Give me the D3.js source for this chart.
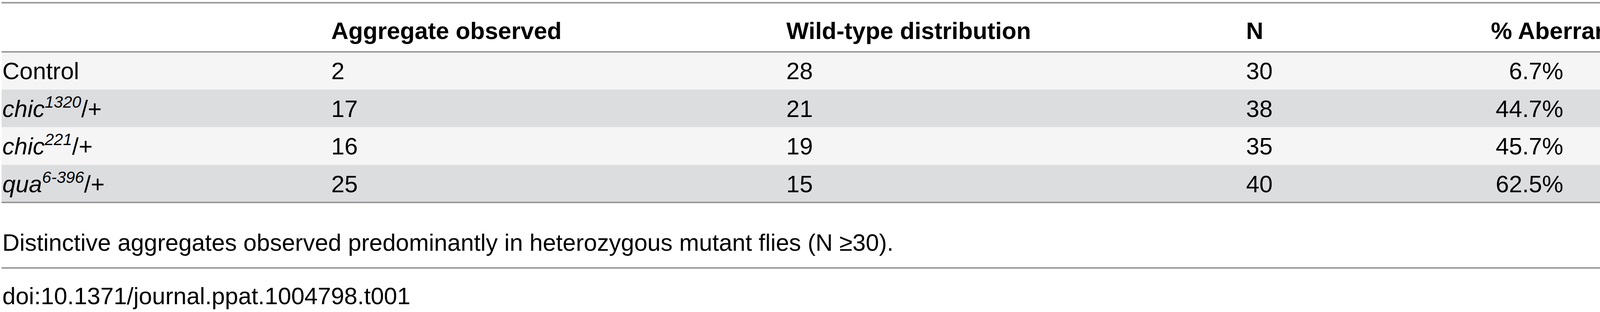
<!DOCTYPE html>
<html><head><meta charset="utf-8">
<script src="https://cdn.jsdelivr.net/npm/d3@7"></script>
<style>body{margin:0;background:#fff;overflow:hidden}svg{display:block}</style>
</head><body>
<script>
const headers = ["", "Aggregate observed", "Wild-type distribution", "N", "% Aberrant"];
const genotypes = [["Control", "", ""], ["chic", "1320", "/+"], ["chic", "221", "/+"], ["qua", "6-396", "/+"]];
const aggregate = [2, 17, 16, 25];
const wildType = [28, 21, 19, 15];
const nTotal = [30, 38, 35, 40];
const aberrant = ["6.7%", "44.7%", "45.7%", "62.5%"];
const footnote = "Distinctive aggregates observed predominantly in heterozygous mutant flies (N \u226530).";
const doi = "doi:10.1371/journal.ppat.1004798.t001";

const W = 4159, H = 800, FS = 61;
const svg = d3.select("body").append("svg").attr("width", W).attr("height", H)
  .style("font-family", "'Liberation Sans', Arial, sans-serif");

const y = d3.scaleBand().domain(d3.range(genotypes.length)).range([133, 519]).padding(0);
const colX = d3.scaleOrdinal().domain([0,1,2,3]).range([6, 848, 2013, 3190]);
const pctRight = 4002;

svg.selectAll("rect.row").data(genotypes).join("rect")
  .attr("x", 4).attr("width", W - 6).attr("y", (d,i) => y(i)).attr("height", y.bandwidth())
  .attr("fill", (d,i) => i % 2 ? "#dcdddf" : "#f5f5f5");

[7, 133, 519, 687].forEach(v => svg.append("rect").attr("x", 4).attr("width", W - 6)
  .attr("y", v - 2).attr("height", 4).attr("fill", "#9a9a9a"));

const hb = 100;
headers.forEach((h, i) => {
  if (!h) return;
  const t = svg.append("text").attr("y", hb).attr("font-size", FS).attr("font-weight", "bold")
    .attr("text-anchor", i === 4 ? "end" : "start")
    .attr("x", i === 4 ? 4140 : colX(i)).text(h);
});

genotypes.forEach((g, i) => {
  const base = y(i) + y.bandwidth() / 2 + 22;
  const t = svg.append("text").attr("x", colX(0)).attr("y", base).attr("font-size", FS);
  if (g[1]) {
    t.append("tspan").attr("font-style", "italic").text(g[0]);
    t.append("tspan").attr("font-style", "italic").attr("font-size", 42).attr("dy", -24).text(g[1]);
    t.append("tspan").attr("dy", 24).text(g[2]);
  } else t.text(g[0]);
  [aggregate[i], wildType[i], nTotal[i]].forEach((v, j) =>
    svg.append("text").attr("x", colX(j + 1)).attr("y", base).attr("font-size", FS).text(v));
  svg.append("text").attr("x", pctRight).attr("y", base).attr("font-size", FS)
    .attr("text-anchor", "end").text(aberrant[i]);
});

svg.append("text").attr("x", 6).attr("y", 643).attr("font-size", FS).text(footnote);
svg.append("text").attr("x", 6).attr("y", 780).attr("font-size", FS).text(doi);
</script>
</body></html>
